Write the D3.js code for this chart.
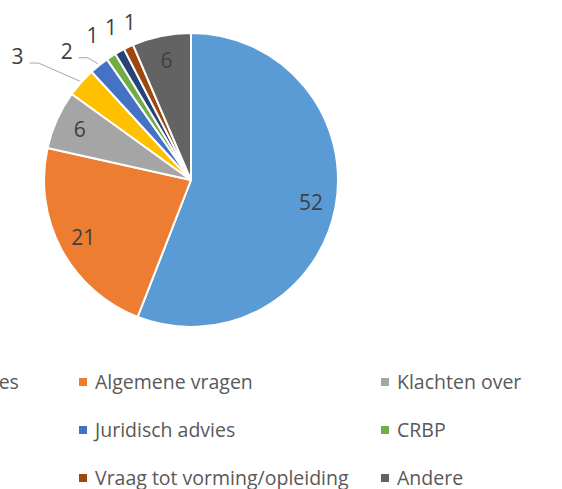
<!DOCTYPE html>
<html>
<head>
<meta charset="utf-8">
<script src="https://cdn.jsdelivr.net/npm/d3@7/dist/d3.min.js"></script>
<style>
  body { margin: 0; background: #fff; }
  svg { display: block; }
  text { font-family: "Open Sans", "Liberation Sans", sans-serif; }
</style>
</head>
<body>
<svg id="chart" width="562" height="489"></svg>
<script>
// categories, in the order the pie draws them (clockwise from 12 o'clock)
const categories = [
    "Adviezen aan ministeries",
    "Algemene vragen",
    "Klachten over",
    "Controle",
    "Juridisch advies",
    "CRBP",
    "Toegang",
    "Vraag tot vorming/opleiding",
    "Andere"
];
const counts = [52, 21, 6, 3, 2, 1, 1, 1, 6];
const colors = ["#5b9bd5", "#ed7d31", "#a5a5a5", "#ffc000", "#4472c4", "#70ad47", "#264478", "#9e480e", "#636363"];

const width = 562;
const height = 489;
const cx = 191;
const cy = 180;
const radius = 147;

const svg = d3.select("#chart");

const data = categories.map((c, i) => ({ name: c, value: counts[i], color: colors[i] }));

const pie = d3.pie()
    .sort(null)
    .value(d => d.value);

const arcs = pie(data);

const arc = d3.arc()
    .innerRadius(0)
    .outerRadius(radius);

const main = svg.append("g")
    .attr("class", "main")
    .attr("transform", "translate(" + cx + "," + cy + ")");

main.selectAll("path.slice")
    .data(arcs)
    .enter().append("path")
    .attr("class", "slice")
    .attr("d", arc)
    .attr("fill", d => d.data.color)
    .attr("stroke", "#fff")
    .attr("stroke-width", 2)
    .attr("stroke-linejoin", "round");

const polar = (angle, r) => [Math.sin(angle) * r, -Math.cos(angle) * r];
const mid = d => (d.startAngle + d.endAngle) / 2;

// big slices: label inside
const inside = arcs.filter(d => d.data.value >= 5);
main.selectAll("text.inside")
    .data(inside)
    .enter().append("text")
    .attr("class", "inside")
    .attr("x", d => polar(mid(d), radius * 0.83)[0])
    .attr("y", d => polar(mid(d), radius * 0.83)[1])
    .attr("dy", "0.35em")
    .attr("text-anchor", "middle")
    .attr("fill", "#404040")
    .style("font-size", "21px")
    .text(d => d.data.value);

// small slices: label outside, spread from the top one down
const outside = arcs.filter(d => d.data.value < 5).reverse();
const topAngle = outside[0].endAngle + 2 * Math.PI / 180;
const step = 6.5 * Math.PI / 180;

outside.forEach((d, j) => {
    const edge = polar(mid(d), radius + 2);
    if (j < 3) {
        const p = polar(topAngle - step * j, radius + 22 + 3 * j);
        d.lx = p[0];
        d.ly = p[1];
        d.leader = false;
    } else {
        // stacked further out to the left with a leader line
        const k = j - 2;
        d.lx = edge[0] - 31 * k;
        d.ly = edge[1] - 12 * k;
        d.leader = true;
    }
    d.edge = edge;
});

main.selectAll("path.leader")
    .data(outside.filter(d => d.leader))
    .enter().append("path")
    .attr("class", "leader")
    .attr("d", d => d3.line()([
        [d.lx + 12, d.ly + 6],
        [d.lx + 21, d.ly + 6],
        d.edge
    ]))
    .attr("fill", "none")
    .attr("stroke", "#a6a6a6")
    .attr("stroke-width", 1);

main.selectAll("text.outside")
    .data(outside)
    .enter().append("text")
    .attr("class", "outside")
    .attr("x", d => d.lx)
    .attr("y", d => d.ly)
    .attr("dy", "0.35em")
    .attr("text-anchor", "middle")
    .attr("fill", "#404040")
    .style("font-size", "21px")
    .text(d => d.data.value);

// legend: 3 columns, the first one runs off the left edge
const colX = d3.scaleLinear().domain([0, 1]).range([-223, 79]);
const rowY = d3.scaleLinear().domain([0, 1]).range([382, 430]);

const legend = svg.append("g").attr("class", "legend");
const item = legend.selectAll("g.item")
    .data(data)
    .enter().append("g")
    .attr("class", "item")
    .attr("transform", (d, i) => "translate(" + colX(i % 3) + "," + rowY(Math.floor(i / 3)) + ")");

item.append("rect")
    .attr("x", 0)
    .attr("y", -4)
    .attr("width", 8)
    .attr("height", 8)
    .attr("fill", d => d.color);

item.append("text")
    .attr("x", 16)
    .attr("y", 0)
    .attr("dy", "0.35em")
    .attr("fill", "#595959")
    .style("font-size", "19.5px")
    .text(d => d.name);
</script>
</body>
</html>
